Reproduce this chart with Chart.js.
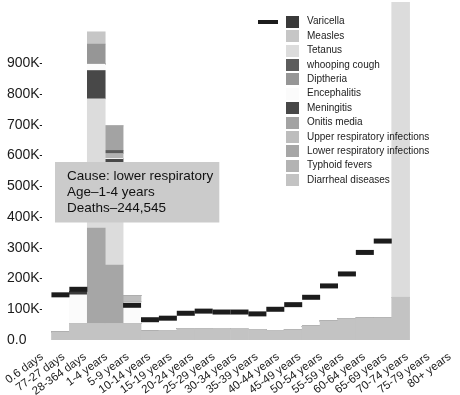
<!DOCTYPE html>
<html>
<head>
<meta charset="utf-8">
<title>Deaths by cause and age</title>
<script src="https://cdn.jsdelivr.net/npm/chart.js@4.4.1/dist/chart.umd.min.js"></script>
<style>
  body { margin: 0; background: #fff; }
  #wrap { width: 460px; height: 395px; }
</style>
</head>
<body>
<div id="wrap"><canvas id="deathsChart" width="460" height="395"></canvas></div>
<script>
// Age groups (x axis)
const ages = ['0.6 days', '77-27 days', '28-364 days', '1-4 years', '5-9 years', '10-14 years',
  '15-19 years', '20-24 years', '25-29 years', '30-34 years', '35-39 years', '40-44 years',
  '45-49 years', '50-54 years', '55-59 years', '60-64 years', '65-69 years', '70-74 years',
  '75-79 years', '80+ years'];

// Causes, in legend order
const causes = ['Varicella', 'Measles', 'Tetanus', 'whooping cough', 'Diptheria', 'Encephalitis',
  'Meningitis', 'Onitis media', 'Upper respiratory infections', 'Lower respiratory infections',
  'Typhoid fevers', 'Diarrheal diseases'];

// Deaths per age group, one array per cause
const diarrheal   = [26000, 54000, 54000, 54000, 54000, 29000, 31000, 37000, 37000, 35000, 35000, 34000, 31000, 33000, 45000, 62000, 69000, 71000, 72000, 139000];
const lowerResp   = [0, 0, 310000, 190000, 0, 0, 0, 0, 0, 0, 0, 0, 0, 0, 0, 0, 0, 0, 0, 0];
const tetanus     = [0, 0, 421000, 317000, 0, 0, 0, 0, 0, 0, 0, 0, 0, 0, 0, 0, 0, 0, 0, 1011000];
const meningitis  = [0, 0, 92000, 27000, 0, 0, 0, 0, 0, 0, 0, 0, 0, 0, 0, 0, 0, 0, 0, 0];
const encephalitis = [0, 93000, 21000, 3000, 70000, 0, 0, 0, 0, 0, 0, 0, 0, 0, 0, 0, 0, 0, 0, 0];
const varicella   = [0, 11000, 0, 0, 0, 0, 0, 0, 0, 0, 0, 0, 0, 0, 0, 0, 0, 0, 0, 0];
const upperResp   = [0, 0, 0, 0, 20000, 0, 0, 0, 0, 0, 0, 0, 0, 0, 0, 0, 0, 0, 0, 0];
const typhoid     = [0, 0, 0, 16000, 0, 0, 0, 0, 0, 0, 0, 0, 0, 0, 0, 0, 0, 0, 0, 0];
const whooping    = [0, 0, 0, 10000, 0, 0, 0, 0, 0, 0, 0, 0, 0, 0, 0, 0, 0, 0, 0, 0];
const onitis      = [0, 0, 0, 80000, 0, 0, 0, 0, 0, 0, 0, 0, 0, 0, 0, 0, 0, 0, 0, 0];
const diptheria   = [0, 0, 65000, 0, 0, 0, 0, 0, 0, 0, 0, 0, 0, 0, 0, 0, 0, 0, 0, 0];
const measles     = [0, 0, 40000, 0, 0, 0, 0, 0, 0, 0, 0, 0, 0, 0, 0, 0, 0, 0, 0, 0];

// Black dash marks per age group (hidden behind the tall bars -> null)
const ageMarks = [147000, 165000, null, null, 113000, 66000, 71000, 87000, 94000, 91000, 91000,
  85000, 100000, 115000, 139000, 176000, 215000, 285000, 322000, null];

// Highlighted value shown in the grey note box
const highlight = { cause: 'lower respiratory', age: 3, deaths: 244545 };

const seriesByCause = {
  'Varicella': varicella, 'Measles': measles, 'Tetanus': tetanus, 'whooping cough': whooping,
  'Diptheria': diptheria, 'Encephalitis': encephalitis, 'Meningitis': meningitis,
  'Onitis media': onitis, 'Upper respiratory infections': upperResp,
  'Lower respiratory infections': lowerResp, 'Typhoid fevers': typhoid, 'Diarrheal diseases': diarrheal
};

const shades = {
  'Diarrheal diseases': '#c3c3c3',
  'Lower respiratory infections': '#a6a6a6',
  'Tetanus': '#dcdcdc',
  'Meningitis': '#484848',
  'Encephalitis': '#fbfbfb',
  'Varicella': '#3a3a3a',
  'Upper respiratory infections': '#bdbdbd',
  'Typhoid fevers': '#b3b3b3',
  'whooping cough': '#5c5c5c',
  'Onitis media': '#a3a3a3',
  'Diptheria': '#969696',
  'Measles': '#c6c6c6'
};

// bottom -> top
const stackOrder = ['Diarrheal diseases', 'Lower respiratory infections', 'Tetanus', 'Meningitis',
  'Encephalitis', 'Varicella', 'Upper respiratory infections', 'Typhoid fevers', 'whooping cough',
  'Onitis media', 'Diptheria', 'Measles'];

const FONT = 'Liberation Sans';

const barSets = stackOrder.map(name => ({
  label: name,
  data: seriesByCause[name].map((v, i) => ({ x: i, y: v })),
  backgroundColor: shades[name],
  borderWidth: 0,
  xAxisID: 'xb',
  stack: 'causes',
  categoryPercentage: 1,
  barPercentage: 1
}));

const markSet = {
  type: 'line',
  label: '',
  data: ageMarks.map((v, i) => ({ x: i, y: v })),
  xAxisID: 'xb',
  stack: 'marks',
  showLine: false,
  pointStyle: 'line',
  pointRadius: 9,
  pointBorderWidth: 5,
  pointBorderColor: '#1c1c1c',
  order: -1
};

// legend drawn in one column over the top right of the plot
const sideLegend = {
  id: 'sideLegend',
  afterDraw(chart, args, opts) {
    const ctx = chart.ctx;
    ctx.save();
    ctx.font = opts.size + 'px "' + FONT + '"';
    ctx.textBaseline = 'middle';
    causes.forEach((name, i) => {
      const ds = chart.data.datasets.find(d => d.label === name);
      const y = opts.top + i * opts.rowHeight;
      ctx.fillStyle = ds.backgroundColor;
      ctx.fillRect(opts.left, Math.round(y - 6), 13, 12);
      ctx.fillStyle = opts.color;
      ctx.fillText(name, opts.left + 21, y);
    });
    // marker of the dash series, left of the first row
    ctx.fillStyle = markSet.pointBorderColor;
    ctx.fillRect(opts.left - 28, Math.round(opts.top - 2), 20, 4);
    ctx.restore();
  }
};

Chart.Tooltip.positioners.note = function () {
  return { x: 55, y: 162 };
};

const config = {
  type: 'bar',
  data: { labels: ages, datasets: [markSet, ...barSets] },
  options: {
    responsive: false,
    animation: false,
    events: [],
    layout: { autoPadding: false, padding: { left: 7, right: 8, top: 2, bottom: 0 } },
    scales: {
      x: {
        type: 'category',
        offset: false,
        grid: { display: false },
        border: { display: false },
        ticks: {
          autoSkip: false,
          minRotation: 36,
          maxRotation: 36,
          padding: 2,
          color: '#1a1a1a',
          font: { family: FONT, size: 11.5 }
        },
        afterFit: scale => { scale.height = 55; }
      },
      xb: {
        type: 'linear',
        display: false,
        offset: false,
        stacked: true,
        min: -1.03,
        max: 21.75
      },
      y: {
        stacked: true,
        min: 0,
        max: 1100000,
        grid: { display: false },
        border: { display: false },
        afterBuildTicks: scale => {
          scale.ticks = scale.ticks.filter(t => t.value <= 900000);
        },
        ticks: {
          stepSize: 100000,
          crossAlign: 'far',
          padding: 0,
          color: '#1a1a1a',
          font: { family: FONT, size: 14 },
          callback: v => v === 0 ? '0.0' : (v / 1000) + 'K–'
        },
        afterFit: scale => {
          scale.width = 35;
          scale.paddingTop = 0;
        }
      }
    },
    plugins: {
      legend: { display: false },
      sideLegend: { left: 286, top: 21.7, rowHeight: 14.4, size: 10, color: '#222' },
      tooltip: {
        enabled: true,
        position: 'note',
        xAlign: 'left',
        yAlign: 'top',
        caretSize: 0,
        caretPadding: 0,
        cornerRadius: 0,
        displayColors: false,
        backgroundColor: '#cbcbcb',
        bodyColor: '#111',
        bodyFont: { family: FONT, size: 13.5, lineHeight: 1.15 },
        bodySpacing: 0,
        padding: { left: 12, right: 6, top: 7, bottom: 7 },
        callbacks: {
          title: () => '',
          label: () => [
            'Cause: ' + highlight.cause,
            'Age–' + ages[highlight.age],
            'Deaths–' + highlight.deaths.toLocaleString('en-US')
          ]
        }
      }
    }
  },
  plugins: [sideLegend]
};

const ctx = document.getElementById('deathsChart').getContext('2d');
const chart = new Chart(ctx, config);

// show the note box on the lower respiratory bar of the 1-4 years group
const lowerIdx = config.data.datasets.findIndex(d => d.label === 'Lower respiratory infections');
chart.tooltip.setActiveElements([{ datasetIndex: lowerIdx, index: highlight.age }], { x: 0, y: 0 });
chart.update();
</script>
</body>
</html>
